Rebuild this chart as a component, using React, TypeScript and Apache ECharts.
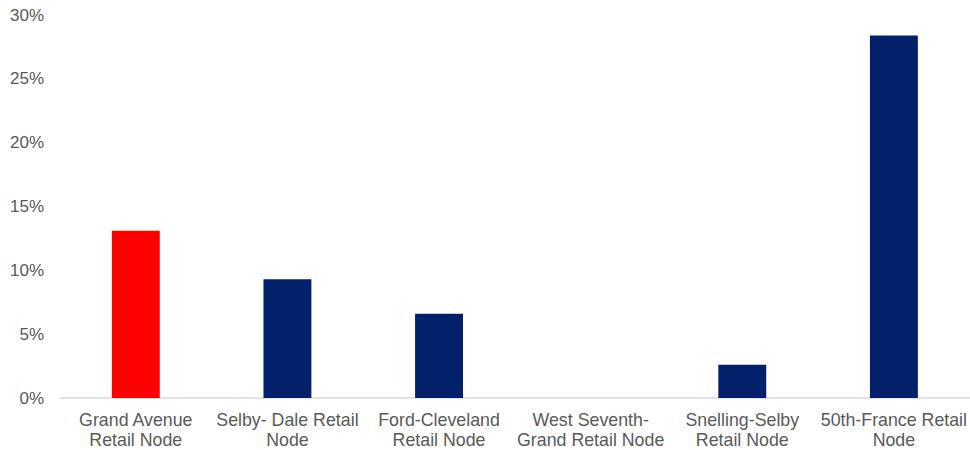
import React, { useEffect, useRef } from "react";
import * as echarts from "echarts";

const categories = [
  "Grand Avenue\nRetail Node",
  "Selby- Dale Retail\nNode",
  "Ford-Cleveland\nRetail Node",
  "West Seventh-\nGrand Retail Node",
  "Snelling-Selby\nRetail Node",
  "50th-France Retail\nNode",
];
const values = [13.1, 9.3, 6.6, 0, 2.6, 28.4];
const barColors = ["#FF0000", "#03216B", "#03216B", "#03216B", "#03216B", "#03216B"];
const yTicks = { min: 0, max: 30, interval: 5 };

export default function App() {
  const ref = useRef<HTMLDivElement>(null);
  useEffect(() => {
    if (!ref.current) return;
    const chart = echarts.init(ref.current, undefined, { renderer: "svg" });
    chart.setOption({
      animation: false,
      textStyle: { fontFamily: "Liberation Sans, Arial, sans-serif" },
      grid: { left: 60, right: 0, top: 15, bottom: 51, containLabel: false },
      xAxis: {
        type: "category",
        data: categories,
        axisLine: { lineStyle: { color: "#D9D9D9", width: 1.5 } },
        axisTick: { show: false },
        axisLabel: {
          color: "#595959",
          fontSize: 17.8,
          lineHeight: 20,
          margin: 12,
          interval: 0,
          fontFamily: "Liberation Sans, Arial, sans-serif",
        },
      },
      yAxis: {
        type: "value",
        min: yTicks.min,
        max: yTicks.max,
        interval: yTicks.interval,
        splitLine: { show: false },
        axisLine: { show: false },
        axisTick: { show: false },
        axisLabel: {
          color: "#595959",
          fontSize: 17,
          margin: 16,
          formatter: (v: number) => `${v}%`,
          fontFamily: "Liberation Sans, Arial, sans-serif",
        },
      },
      series: [
        {
          type: "bar",
          data: values.map((v, i) => ({ value: v, itemStyle: { color: barColors[i] } })),
          barWidth: "31.6%",
        },
      ],
    });
    return () => chart.dispose();
  }, []);
  return (
    <div
      ref={ref}
      style={{ position: "fixed", left: 0, top: 0, width: 970, height: 450, background: "#fff" }}
    />
  );
}
